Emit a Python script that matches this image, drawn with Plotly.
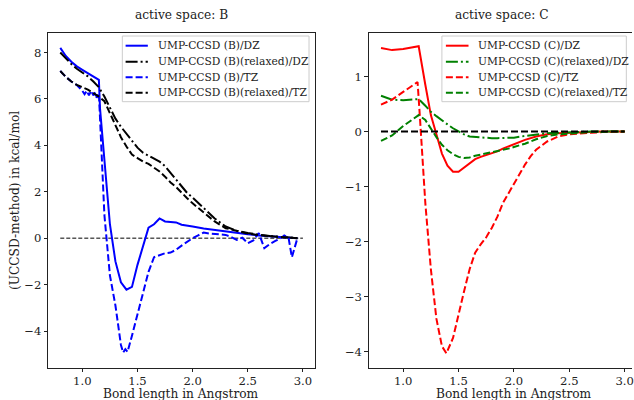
import plotly.graph_objects as go

# ---------------- data: active space B ----------------
xB_dz = [0.80, 0.85, 0.90, 0.95, 1.00, 1.05, 1.10, 1.15, 1.16, 1.20, 1.25, 1.30, 1.35, 1.40, 1.45,
         1.50, 1.55, 1.60, 1.65, 1.70, 1.75, 1.80, 1.85, 1.90, 1.95, 2.00, 2.10, 2.20, 2.30,
         2.40, 2.50, 2.60, 2.70, 2.80, 2.90, 2.95]
yB_dz = [8.20, 7.85, 7.60, 7.40, 7.25, 7.10, 6.95, 6.82, 5.60, 3.40, 0.60, -1.00, -1.90, -2.22, -2.10,
         -1.15, -0.30, 0.45, 0.60, 0.85, 0.72, 0.70, 0.68, 0.58, 0.55, 0.50, 0.42, 0.35, 0.28,
         0.22, 0.17, 0.12, 0.08, 0.06, 0.03, 0.00]

xB_rel = [0.80, 0.85, 0.90, 0.95, 1.00, 1.05, 1.10, 1.15, 1.20, 1.25, 1.30, 1.35, 1.40, 1.45, 1.50,
          1.55, 1.60, 1.65, 1.70, 1.75, 1.80, 1.85, 1.90, 1.95, 2.00, 2.10, 2.20, 2.30, 2.40,
          2.50, 2.60, 2.70, 2.80, 2.90, 2.95]
yB_rel_dz = [8.00, 7.75, 7.50, 7.30, 7.15, 6.97, 6.75, 6.50, 6.10, 5.60, 5.15, 4.80, 4.50, 4.20, 3.90,
             3.68, 3.55, 3.45, 3.30, 3.10, 2.80, 2.50, 2.20, 1.95, 1.75, 1.30, 0.85, 0.50, 0.32,
             0.22, 0.14, 0.09, 0.05, 0.02, 0.00]
yB_rel_tz = [7.20, 6.95, 6.75, 6.60, 6.50, 6.40, 6.25, 6.10, 5.90, 5.40, 4.85, 4.35, 3.95, 3.60, 3.45,
             3.30, 3.20, 3.05, 2.87, 2.65, 2.40, 2.20, 1.95, 1.72, 1.50, 1.10, 0.72, 0.43, 0.30,
             0.20, 0.13, 0.08, 0.05, 0.02, 0.00]

xB_tz = [0.80, 0.85, 0.90, 0.95, 1.00, 1.02, 1.04, 1.06, 1.08, 1.10, 1.12, 1.13, 1.15, 1.20, 1.25,
         1.30, 1.35, 1.37, 1.39, 1.41, 1.45, 1.50, 1.55, 1.60, 1.65, 1.70, 1.75, 1.80, 1.85,
         1.90, 1.95, 2.00, 2.05, 2.10, 2.15, 2.20, 2.25, 2.30, 2.35, 2.40, 2.45, 2.50, 2.55,
         2.60, 2.65, 2.70, 2.75, 2.80, 2.83, 2.87, 2.90, 2.95]
yB_tz = [7.20, 6.95, 6.75, 6.60, 6.35, 6.20, 6.35, 6.15, 6.35, 6.15, 6.30, 6.05, 6.25, 1.00, -1.60,
         -2.90, -4.60, -4.93, -4.78, -4.90, -4.20, -3.30, -2.40, -1.45, -0.82, -0.72, -0.65, -0.62, -0.50,
         -0.32, -0.15, 0.00, 0.12, 0.24, 0.20, 0.17, 0.16, 0.14, 0.05, -0.07, 0.02, -0.22, -0.10,
         0.22, -0.43, -0.25, -0.12, 0.00, 0.12, 0.00, -0.82, 0.00]

# ---------------- data: active space C ----------------
xC = [0.80, 0.90, 1.00, 1.10, 1.14, 1.20, 1.25, 1.30, 1.35, 1.40, 1.45, 1.50, 1.55, 1.60, 1.65,
      1.70, 1.75, 1.80, 1.85, 1.90, 1.95, 2.00, 2.10, 2.20, 2.30, 2.40, 2.50, 2.60, 2.70,
      2.80, 2.90, 3.00]
yC_dz = [1.52, 1.48, 1.50, 1.53, 1.55, 0.85, 0.30, -0.05, -0.40, -0.62, -0.73, -0.73, -0.65, -0.57, -0.50,
         -0.46, -0.43, -0.40, -0.36, -0.31, -0.27, -0.23, -0.15, -0.09, -0.05, -0.03, -0.02, -0.01, 0.00,
         0.00, 0.00, 0.00]
yC_rel_dz = [0.65, 0.58, 0.57, 0.58, 0.59, 0.47, 0.36, 0.28, 0.20, 0.13, 0.06, 0.00, -0.05, -0.09, -0.10,
             -0.11, -0.12, -0.12, -0.12, -0.12, -0.12, -0.11, -0.08, -0.05, -0.03, -0.02, -0.01, -0.01, 0.00,
             0.00, 0.00, 0.00]
yC_rel_tz = [-0.17, -0.07, 0.10, 0.24, 0.30, 0.21, 0.05, -0.10, -0.24, -0.34, -0.41, -0.46, -0.48, -0.47, -0.44,
             -0.42, -0.40, -0.38, -0.36, -0.34, -0.31, -0.28, -0.22, -0.14, -0.08, -0.05, -0.03, -0.02, -0.01,
             0.00, 0.00, 0.00]

xC_tz = [0.80, 0.90, 1.00, 1.10, 1.13, 1.15, 1.20, 1.25, 1.30, 1.35, 1.39, 1.45, 1.50, 1.55, 1.60,
         1.65, 1.70, 1.75, 1.80, 1.85, 1.90, 1.95, 2.00, 2.05, 2.10, 2.15, 2.20, 2.30, 2.40,
         2.50, 2.60, 2.70, 2.80, 2.90, 3.00]
yC_tz = [0.49, 0.58, 0.72, 0.85, 0.90, 0.30, -1.30, -2.50, -3.40, -3.90, -4.03, -3.75, -3.30, -2.90, -2.50,
         -2.20, -2.05, -1.92, -1.75, -1.55, -1.30, -1.12, -0.95, -0.78, -0.60, -0.45, -0.33, -0.18, -0.09,
         -0.05, -0.03, -0.02, -0.01, 0.00, 0.00]

x_zero = [0.8, 3.0]
y_zero = [0.0, 0.0]

names_B = ["UMP-CCSD (B)/DZ", "UMP-CCSD (B)(relaxed)/DZ", "UMP-CCSD (B)/TZ", "UMP-CCSD (B)(relaxed)/TZ"]
names_C = ["UMP-CCSD (C)/DZ", "UMP-CCSD (C)(relaxed)/DZ", "UMP-CCSD (C)/TZ", "UMP-CCSD (C)(relaxed)/TZ"]
titles = ["active space: B", "active space: C"]
xlabel = "Bond length in Angstrom"
ylabel = "(UCCSD-method) in kcal/mol"
x_ticks = [1.0, 1.5, 2.0, 2.5, 3.0]
x_ticktext = ["1.0", "1.5", "2.0", "2.5", "3.0"]
yB_ticks = [-4, -2, 0, 2, 4, 6, 8]
yC_ticks = [-4, -3, -2, -1, 0, 1]

FONT = "DejaVu Serif"
DASH = "7px,3px"
DASHDOT = "12px,3px,2px,3px"
LW = 2
TXT = "#222"

styles_B = [("#0000ff", "solid"), ("black", DASHDOT), ("#0000ff", DASH), ("black", DASH)]
styles_C = [("#ff0000", "solid"), ("#008000", DASHDOT), ("#ff0000", DASH), ("#008000", DASH)]

fig = go.Figure()

def add(x, y, name, style, xa, ya, width=LW):
    color, dash = style
    fig.add_trace(go.Scatter(x=x, y=y, name=name, mode="lines",
                             line=dict(color=color, dash=dash, width=width),
                             xaxis=xa, yaxis=ya, showlegend=False))

def minus(v):
    return str(v).replace("-", "\u2212")

# left panel
add(x_zero, y_zero, "zero", ("black", "4px,2px"), "x", "y", width=1)
add(xB_dz, yB_dz, names_B[0], styles_B[0], "x", "y")
add(xB_rel, yB_rel_dz, names_B[1], styles_B[1], "x", "y")
add(xB_tz, yB_tz, names_B[2], styles_B[2], "x", "y")
add(xB_rel, yB_rel_tz, names_B[3], styles_B[3], "x", "y")

# right panel
add(xC, yC_dz, names_C[0], styles_C[0], "x2", "y2")
add(xC, yC_rel_dz, names_C[1], styles_C[1], "x2", "y2")
add(xC_tz, yC_tz, names_C[2], styles_C[2], "x2", "y2")
add(xC, yC_rel_tz, names_C[3], styles_C[3], "x2", "y2")
add(x_zero, y_zero, "zero", ("black", DASH), "x2", "y2")

W, H = 634, 400
L1, R1 = 48.3 / W, 315.5 / W
L2, R2 = 370.0 / W, 1.0
B, T = 1 - 367.7 / H, 1 - 32.5 / H

def px(v):
    return v / W

def py(v):
    return 1 - v / H

axis_common = dict(showline=True, linecolor=TXT, linewidth=1, ticks="outside", ticklen=3.5,
                   tickcolor=TXT, showgrid=False, zeroline=False, ticklabeloverflow="allow",
                   tickfont=dict(family=FONT, size=11.6, color=TXT))

annotations = [
    dict(text=titles[0], x=(L1 + R1) / 2, y=py(15)),
    dict(text=titles[1], x=px(504), y=py(15)),
    dict(text=xlabel, x=(L1 + R1) / 2, y=py(393.5)),
    dict(text=xlabel, x=px(516), y=py(393.5)),
    dict(text=ylabel, x=px(15), y=(B + T) / 2, textangle=-90),
]
for a in annotations:
    a.update(xref="paper", yref="paper", xanchor="center", yanchor="middle", showarrow=False,
             font=dict(family=FONT, size=12.2, color=TXT))

# hand-built legends (matplotlib style: compact rows)
shapes = []
row_y = [45.7, 61.7, 77.3, 92.7]
for (box_l, box_r, s_l, s_r, t_l, names, styles) in [
        (122.7, 310.0, 126.0, 148.3, 156.0, names_B, styles_B),
        (443.3, 628.3, 447.3, 470.0, 477.6, names_C, styles_C)]:
    shapes.append(dict(type="rect", xref="paper", yref="paper", layer="above",
                       x0=px(box_l), x1=px(box_r), y0=py(36), y1=py(101.7),
                       line=dict(color="#cccccc", width=1), fillcolor="rgba(255,255,255,0.8)"))
    for ry, name, (color, dash) in zip(row_y, names, styles):
        shapes.append(dict(type="line", xref="paper", yref="paper", layer="above",
                           x0=px(s_l), x1=px(s_r), y0=py(ry), y1=py(ry),
                           line=dict(color=color, dash=dash, width=LW)))
        annotations.append(dict(text=name, x=px(t_l), y=py(ry), xref="paper", yref="paper",
                                xanchor="left", yanchor="middle", showarrow=False,
                                font=dict(family=FONT, size=10.7, color=TXT)))

fig.update_layout(
    width=W, height=H, margin=dict(l=0, r=0, t=0, b=0),
    paper_bgcolor="white", plot_bgcolor="white",
    font=dict(family=FONT, size=12, color=TXT),
    showlegend=False,
    xaxis=dict(domain=[L1, R1], range=[0.69, 3.105], tickvals=x_ticks, ticktext=x_ticktext,
               mirror=True, anchor="y", ticklabelstandoff=-1, **axis_common),
    yaxis=dict(domain=[B, T], range=[-5.58, 8.86], tickvals=yB_ticks,
               ticktext=[minus(v) for v in yB_ticks], mirror=True, anchor="x", **axis_common),
    xaxis2=dict(domain=[L2, R2], range=[0.69, 3.066], tickvals=x_ticks, ticktext=x_ticktext,
                mirror=True, anchor="y2", ticklabelstandoff=-1, **axis_common),
    yaxis2=dict(domain=[B, T], range=[-4.29, 1.80], tickvals=yC_ticks,
                ticktext=[minus(v) for v in yC_ticks], mirror=False, anchor="x2", **axis_common),
    annotations=annotations,
    shapes=shapes,
)

fig.write_html("out.html", config={"displayModeBar": False},
               post_script="document.body.style.margin='0';document.body.style.overflow='hidden';")
